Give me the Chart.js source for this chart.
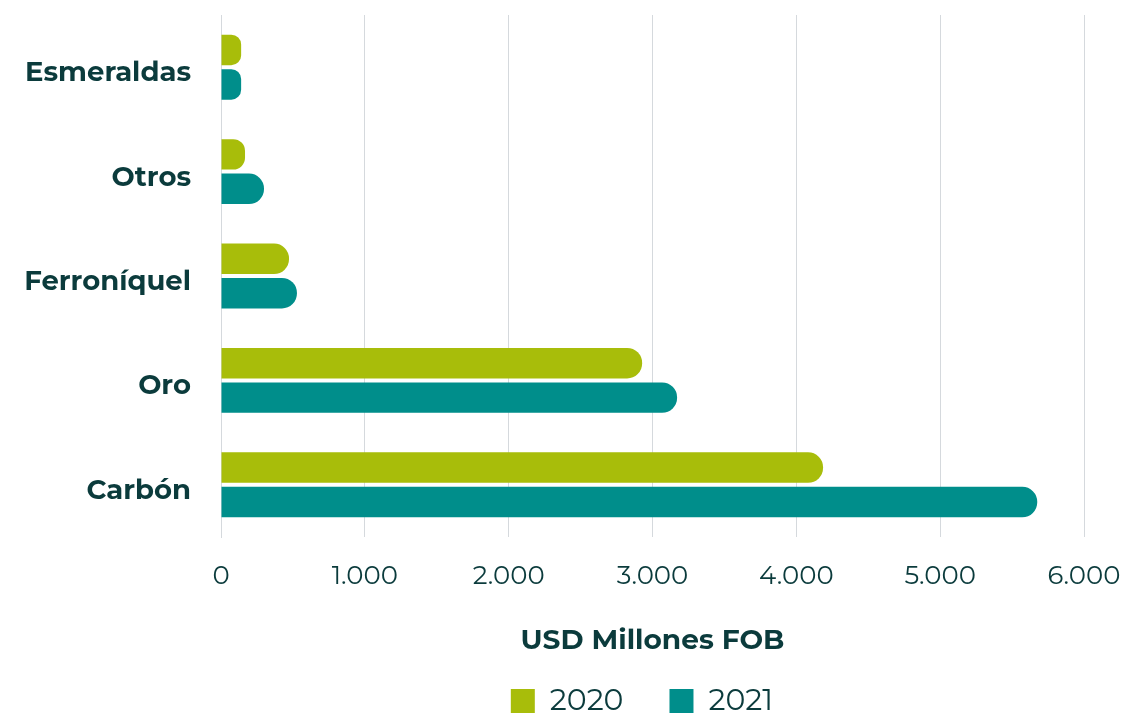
<!DOCTYPE html>
<html>
<head>
<meta charset="utf-8">
<script src="https://cdn.jsdelivr.net/npm/chart.js@4"></script>
<style>
  html, body { margin: 0; padding: 0; background: #fff; }
  #wrap { width: 1127px; height: 714px; }
</style>
</head>
<body>
<div id="wrap"><canvas id="myChart"></canvas></div>
<script>
const categories = ["Esmeraldas", "Otros", "Ferroníquel", "Oro", "Carbón"];
const values2020 = [140, 167, 473, 2928, 4186];
const values2021 = [140, 299, 528, 3171, 5675];
const seriesLabels = ["2020", "2021"];
const xTicks = [0, 1000, 2000, 3000, 4000, 5000, 6000];

const textColor = "#0b3b3c";
const gridColor = "#d5d9dd";
const fontFam = "Montserrat, 'Open Sans', sans-serif";

function fmt(v) {
  return v.toString().replace(/\B(?=(\d{3})+(?!\d))/g, ".");
}

// nudge the legend to where it sits in the original
const legendShift = {
  id: "legendShift",
  afterLayout(chart) {
    let lg = chart.legend;
    lg.left += 100;
    lg.right += 100;
    lg.top += 12;
    lg.bottom += 12;
  },
};

const ctx = document.getElementById("myChart").getContext("2d");
const myChart = new Chart(ctx, {
  type: "bar",
  data: {
    labels: categories,
    datasets: [
      {
        label: seriesLabels[0],
        data: values2020,
        backgroundColor: "#a8bd0a",
        borderRadius: 15,
        borderSkipped: "start",
      },
      {
        label: seriesLabels[1],
        data: values2021,
        backgroundColor: "#008e8b",
        borderRadius: 15,
        borderSkipped: "start",
      },
    ],
  },
  plugins: [legendShift],
  options: {
    indexAxis: "y",
    responsive: true,
    maintainAspectRatio: false,
    animation: false,
    categoryPercentage: 0.66,
    barPercentage: 0.885,
    layout: { padding: { top: 15, right: 43, bottom: 0, left: 0 } },
    plugins: {
      tooltip: { enabled: false },
      legend: {
        position: "bottom",
        labels: {
          boxWidth: 24,
          boxHeight: 24,
          padding: 46,
          color: textColor,
          font: { family: fontFam, size: 30 },
        },
      },
    },
    scales: {
      x: {
        min: 0,
        max: 6000,
        afterBuildTicks: (scale) => {
          scale.ticks = xTicks.map((v) => ({ value: v }));
        },
        afterFit: (scale) => {
          let lg = scale.chart.legend;
          let lh = lg && lg.height ? lg.height : 86;
          scale.height = scale.chart.height - lh - 537;
        },
        grid: {
          color: gridColor,
          drawTicks: true,
          tickLength: 20,
          tickColor: "rgba(0,0,0,0)",
        },
        border: { display: false },
        ticks: {
          padding: 4,
          color: textColor,
          font: { family: fontFam, size: 26 },
          callback: (v) => fmt(v),
        },
        title: {
          display: true,
          text: "USD Millones FOB",
          color: textColor,
          font: { family: fontFam, size: 28, weight: "bold" },
          padding: { top: 0, bottom: -30 },
        },
      },
      y: {
        afterFit: (scale) => {
          scale.width = 221;
        },
        grid: {
          drawOnChartArea: false,
          drawTicks: true,
          tickLength: 30,
          tickColor: "rgba(0,0,0,0)",
        },
        border: { display: true, color: gridColor },
        ticks: {
          padding: 0,
          labelOffset: 6,
          color: textColor,
          font: { family: fontFam, size: 27.5, weight: "bold", lineHeight: 1 },
        },
      },
    },
  },
});
</script>
</body>
</html>
